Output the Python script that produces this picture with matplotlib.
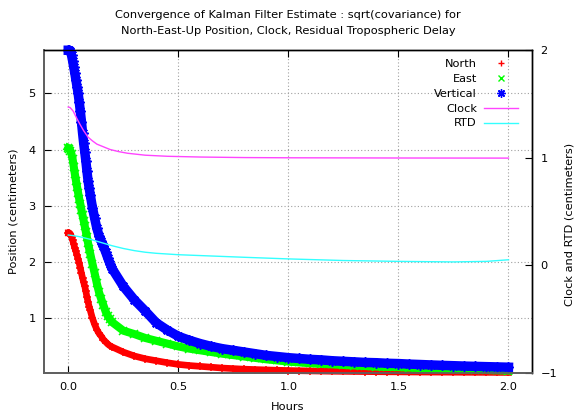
import matplotlib
matplotlib.use("Agg")
import matplotlib.pyplot as plt
from matplotlib.lines import Line2D

# Kalman filter sqrt(covariance) in centimeters vs. elapsed time in hours
hours = [0.000, 0.005, 0.010, 0.015, 0.020, 0.025, 0.030, 0.035, 0.040, 0.045,
         0.050, 0.055, 0.060, 0.065, 0.070, 0.075, 0.080, 0.085, 0.090, 0.095,
         0.100, 0.110, 0.120, 0.130, 0.140, 0.150, 0.160, 0.170, 0.180, 0.190,
         0.20, 0.25, 0.30, 0.35, 0.40, 0.45, 0.50, 0.55, 0.60, 0.65,
         0.70, 0.75, 0.80, 0.85, 0.90, 0.95, 1.00, 1.05, 1.10, 1.15,
         1.20, 1.25, 1.30, 1.35, 1.40, 1.45, 1.50, 1.55, 1.60, 1.65,
         1.70, 1.75, 1.80, 1.85, 1.90, 1.95, 2.00]

north = [2.52, 2.52, 2.50, 2.45, 2.39, 2.32, 2.25, 2.19, 2.12, 2.05,
         1.98, 1.89, 1.80, 1.72, 1.64, 1.57, 1.48, 1.38, 1.29, 1.21,
         1.14, 1.00, 0.89, 0.80, 0.73, 0.68, 0.62, 0.58, 0.54, 0.51,
         0.49, 0.40, 0.33, 0.28, 0.245, 0.21, 0.18, 0.16, 0.145, 0.13,
         0.115, 0.105, 0.095, 0.088, 0.082, 0.076, 0.071, 0.067, 0.064, 0.061,
         0.058, 0.056, 0.054, 0.052, 0.050, 0.048, 0.047, 0.045, 0.044, 0.043,
         0.042, 0.041, 0.040, 0.039, 0.038, 0.037, 0.036]

east = [4.03, 4.02, 3.98, 3.92, 3.83, 3.70, 3.57, 3.45, 3.34, 3.23,
        3.12, 3.03, 2.93, 2.83, 2.74, 2.64, 2.54, 2.44, 2.34, 2.24,
        2.15, 1.97, 1.80, 1.62, 1.46, 1.34, 1.23, 1.12, 1.04, 0.98,
        0.93, 0.78, 0.72, 0.65, 0.60, 0.55, 0.50, 0.46, 0.43, 0.40,
        0.37, 0.345, 0.32, 0.295, 0.27, 0.25, 0.23, 0.215, 0.20, 0.19,
        0.18, 0.17, 0.16, 0.15, 0.14, 0.135, 0.13, 0.122, 0.115, 0.108,
        0.100, 0.095, 0.090, 0.085, 0.080, 0.075, 0.070]

vertical = [5.77, 5.77, 5.75, 5.68, 5.58, 5.47, 5.36, 5.24, 5.12, 5.00,
            4.85, 4.68, 4.50, 4.30, 4.12, 3.96, 3.80, 3.62, 3.45, 3.32,
            3.20, 2.97, 2.78, 2.60, 2.47, 2.37, 2.28, 2.18, 2.07, 1.97,
            1.88, 1.57, 1.33, 1.13, 0.92, 0.79, 0.68, 0.61, 0.55, 0.50,
            0.46, 0.43, 0.40, 0.37, 0.34, 0.32, 0.30, 0.285, 0.27, 0.26,
            0.245, 0.235, 0.225, 0.215, 0.21, 0.20, 0.195, 0.185, 0.178, 0.17,
            0.163, 0.157, 0.150, 0.145, 0.140, 0.135, 0.130]

clock_hours = [0.0, 0.008, 0.015, 0.023, 0.03, 0.04, 0.053, 0.07, 0.09, 0.11,
               0.13, 0.16, 0.19, 0.23, 0.27, 0.35, 0.45, 0.6, 0.8, 1.0, 1.5, 2.0]
clock = [1.47, 1.465, 1.45, 1.43, 1.40, 1.36, 1.31, 1.25, 1.19, 1.155,
         1.125, 1.10, 1.075, 1.055, 1.04, 1.022, 1.012, 1.005, 1.0, 0.998, 0.996, 0.995]

rtd_hours = [0.0, 0.02, 0.05, 0.1, 0.15, 0.2, 0.25, 0.3, 0.35, 0.4,
             0.5, 0.65, 0.8, 1.0, 1.25, 1.5, 1.75, 1.9, 2.0]
rtd = [0.28, 0.275, 0.265, 0.24, 0.21, 0.18, 0.155, 0.135, 0.12, 0.11,
       0.097, 0.085, 0.073, 0.058, 0.043, 0.035, 0.030, 0.035, 0.05]

x_ticks = [0.0, 0.5, 1.0, 1.5, 2.0]
pos_ticks = [1, 2, 3, 4, 5]
clk_ticks = [-1, 0, 1, 2]

FS = 8.2

fig = plt.figure(figsize=(5.74, 4.17), dpi=100)
ax = fig.add_axes([0.0767, 0.1062, 0.8502, 0.7739])
ax2 = ax.twinx()

# position sigmas: dense points drawn as a thick band
ax.plot(hours, north, color='#ff0000', lw=4.8, marker='+', ms=6, mew=1.1, clip_on=False, zorder=3)
ax.plot(hours, east, color='#00ff00', lw=5.8, marker='x', ms=6, mew=1.1, clip_on=False, zorder=3)
ax.plot(hours, vertical, color='#0000ff', lw=6.8, marker=(8, 2, 0), ms=7.5, mew=1.1, clip_on=False, zorder=3)

# clock and residual tropo on the right axis
ax2.plot(clock_hours, clock, color='#ff44ff', lw=1.0)
ax2.plot(rtd_hours, rtd, color='#33ffff', lw=1.0)

ax.set_xlim(-0.11, 2.107)
ax.set_ylim(0.032, 5.774)
ax2.set_ylim(-1, 2)

ax.set_xticks(x_ticks)
ax.set_xticklabels([f"{t:.1f}" for t in x_ticks])
ax.set_yticks(pos_ticks)
ax2.set_yticks(clk_ticks)

ax.tick_params(axis='x', direction='in', length=5, width=0.8, top=True, labelsize=FS, pad=7)
ax.tick_params(axis='y', direction='in', length=5, width=0.8, labelsize=FS, pad=6)
ax2.tick_params(axis='y', direction='in', length=5, width=0.8, labelsize=FS, pad=6)

ax.grid(True, linestyle=(0, (1, 2)), color='#a0a0a0', lw=0.8)
ax.set_axisbelow(True)

for a in (ax, ax2):
    a.spines['left'].set_color('#606060')
    a.spines['bottom'].set_color('#606060')
    a.spines['left'].set_linewidth(1.3)
    a.spines['bottom'].set_linewidth(1.3)
    a.spines['top'].set_linewidth(1.0)
    a.spines['right'].set_linewidth(1.0)

ax.set_xlabel("Hours", fontsize=FS)
ax.xaxis.set_label_coords(0.5, -0.091)
ax.set_ylabel("Position (centimeters)", fontsize=FS)
ax.yaxis.set_label_coords(-0.053, 0.5)
ax2.set_ylabel("Clock and RTD (centimeters)", fontsize=FS, rotation=90)
ax2.yaxis.set_label_coords(1.066, 0.46)

fig.text(0.5017, 1 - 14.6 / 417, "Convergence of Kalman Filter Estimate : sqrt(covariance) for",
         ha='center', va='center', fontsize=FS)
fig.text(0.5017, 1 - 31.0 / 417, "North-East-Up Position, Clock, Residual Tropospheric Delay",
         ha='center', va='center', fontsize=FS)

handles = [
    Line2D([], [], color='#ff0000', ls='none', marker='+', ms=5, mew=1.0),
    Line2D([], [], color='#00ff00', ls='none', marker='x', ms=4.5, mew=1.0),
    Line2D([], [], color='#0000ff', ls='none', marker=(8, 2, 0), ms=6, mew=1.0),
    Line2D([], [], color='#ff44ff', lw=1.0),
    Line2D([], [], color='#33ffff', lw=1.0),
]
labels = ["North", "East", "Vertical", "Clock", "RTD"]
leg = ax2.legend(handles, labels, loc='upper right', bbox_to_anchor=(0.971, 0.971),
                 markerfirst=False, frameon=False, fontsize=FS, handlelength=3.0,
                 handletextpad=0.6, labelspacing=0.42, borderpad=0, borderaxespad=0)
for t in leg.get_texts():
    t.set_ha('right')

fig.savefig("out.png", dpi=100)
